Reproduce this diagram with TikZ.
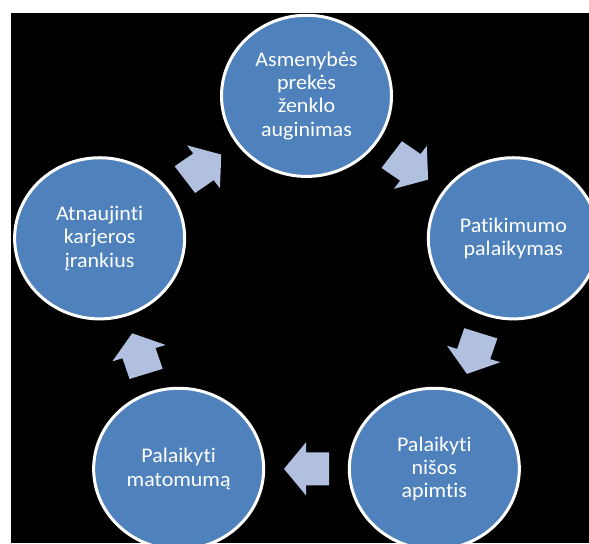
\documentclass[tikz,border=0pt]{standalone}
\usepackage{fontspec}
\setmainfont{Carlito}[Ligatures={NoCommon,NoContextual}]
\usetikzlibrary{calc}
\definecolor{nodeblue}{HTML}{4F81BD}
\definecolor{arrowblue}{HTML}{B0C0DE}
\tikzset{
  stage/.style={circle, minimum size=170pt, inner sep=0pt, draw=white,
    line width=3pt, fill=nodeblue, text=white, align=center,
    font=\fontsize{22}{24.6}\selectfont},
  cyclearrow/.pic={
    \fill[arrowblue] (-22.5,-17.4) -- (0.5,-17.4) -- (0.5,-28) -- (22.5,0)
      -- (0.5,28) -- (0.5,17.4) -- (-22.5,17.4) -- cycle;
  }
}
\begin{document}
\begin{tikzpicture}[x=1pt,y=1pt,yscale=0.948,transform shape]
  \useasboundingbox (0,0) rectangle (589,572.8);
  \fill[black] (11,0) rectangle (589,559.4);
  \coordinate (c) at (306.5,254.2);
  % five stages on a pentagon
  \node[stage] (brand) at ($(c)+(90:217.5)$) {Asmenybės\\prekės\\ženklo\\auginimas};
  \node[stage] (trust) at ($(c)+(18:217.5)$) {Patikimumo\\palaikymas};
  \node[stage] (niche) at ($(c)+(-54:217.5)$) {Palaikyti\\nišos\\apimtis};
  \node[stage] (vis)   at ($(c)+(-126:217.5)$) {Palaikyti\\matomumą};
  \node[stage] (tools) at ($(c)+(162:217.5)$) {Atnaujinti\\karjeros\\įrankius};
  % block arrows between consecutive stages
  \pic[rotate=-36]  at ($(brand)!0.5!(trust)$) {cyclearrow};
  \pic[rotate=-108] at ($(trust)!0.5!(niche)$) {cyclearrow};
  \pic[rotate=180]  at ($(niche)!0.5!(vis)$)   {cyclearrow};
  \pic[rotate=108]  at ($(vis)!0.5!(tools)$)   {cyclearrow};
  \pic[rotate=36]   at ($(tools)!0.5!(brand)$) {cyclearrow};
\end{tikzpicture}
\end{document}
